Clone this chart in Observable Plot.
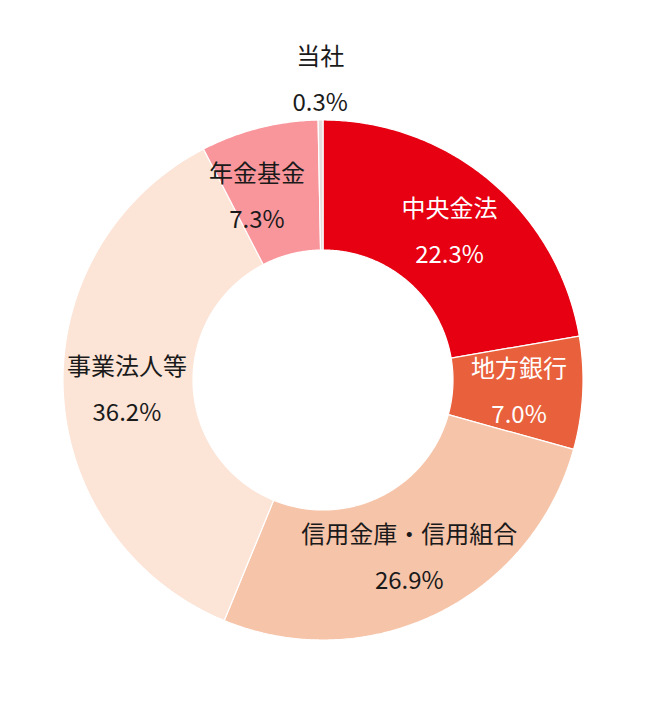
<!DOCTYPE html>
<html>
<head>
<meta charset="utf-8">
<script src="https://cdn.jsdelivr.net/npm/d3@7"></script>
<script src="https://cdn.jsdelivr.net/npm/@observablehq/plot@0.6"></script>
<style>
  html, body { margin: 0; padding: 0; background: #fff; }
  #chart svg { display: block; }
</style>
</head>
<body>
<div id="chart"></div>
<script>
const categories = ["中央金法", "地方銀行", "信用金庫・信用組合", "事業法人等", "年金基金", "当社"];
const shares = [22.3, 7.0, 26.9, 36.2, 7.3, 0.3];
const colors = ["#e60012", "#e9613c", "#f6c4a9", "#fce4d7", "#f9969c", "#e6dcdc"];
const labelColors = ["#ffffff", "#ffffff", "#1a1a1a", "#1a1a1a", "#1a1a1a", "#1a1a1a"];

const W = 663, H = 705;
const cx = 322.5, cy = 379.5, R = 260;
const inner = 0.5;
// small angular nudge (radians) for labels that would crowd a neighbour
const labelNudge = {"年金基金": -0.095};

const total = d3.sum(shares);
const polys = [];
const labels = [];
let acc = 0;
categories.forEach((c, i) => {
  const a0 = acc / total * 2 * Math.PI;
  acc += shares[i];
  const a1 = acc / total * 2 * Math.PI;
  const n = Math.max(2, Math.ceil((a1 - a0) / (Math.PI / 360)));
  const pts = [];
  for (let k = 0; k <= n; k++) {
    const a = a0 + (a1 - a0) * k / n;
    pts.push({cat: c, x: Math.sin(a), y: Math.cos(a)});
  }
  for (let k = n; k >= 0; k--) {
    const a = a0 + (a1 - a0) * k / n;
    pts.push({cat: c, x: inner * Math.sin(a), y: inner * Math.cos(a)});
  }
  pts.push({...pts[0]});
  polys.push(...pts);
  const am = (a0 + a1) / 2 + (labelNudge[c] || 0);
  const lr = shares[i] < 2 ? 1.162 : 0.755;
  labels.push({cat: c, pct: shares[i].toFixed(1) + "%", x: lr * Math.sin(am), y: lr * Math.cos(am), color: labelColors[i]});
});

const chart = Plot.plot({
  width: W,
  height: H,
  margin: 0,
  x: {domain: [-cx / R, (W - cx) / R], axis: null},
  y: {domain: [-(H - cy) / R, cy / R], axis: null},
  color: {domain: categories, range: colors},
  style: {fontFamily: "'Noto Sans CJK JP', 'Noto Sans', sans-serif", background: "#fff"},
  marks: [
    Plot.line(polys, {x: "x", y: "y", z: "cat", fill: "cat", stroke: "#ffffff", strokeWidth: 1.2, strokeLinejoin: "miter", curve: "linear"}),
    Plot.text(labels, {x: "x", y: "y", text: "cat", fill: "color", dy: -21, fontSize: 24}),
    Plot.text(labels, {x: "x", y: "y", text: "pct", fill: "color", dy: 25, fontSize: 24})
  ]
});
document.getElementById("chart").append(chart);
</script>
</body>
</html>
